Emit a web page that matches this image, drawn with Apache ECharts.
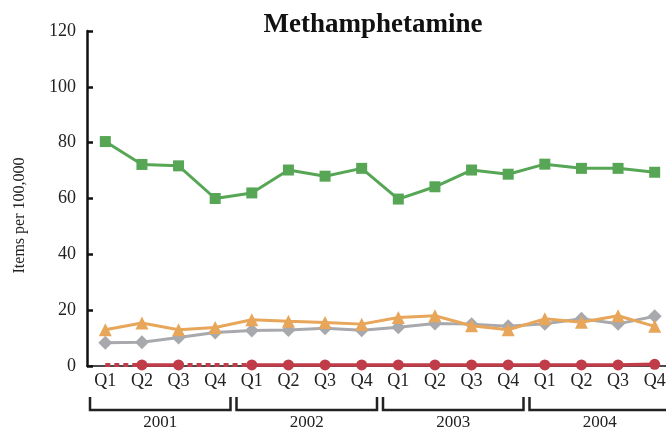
<!DOCTYPE html>
<html>
<head>
<meta charset="utf-8">
<script src="https://cdn.jsdelivr.net/npm/echarts@6/dist/echarts.min.js"></script>
<style>
  html, body { margin: 0; padding: 0; background: #fff; }
  #chart { width: 666px; height: 433px; }
</style>
</head>
<body>
<div id="chart"></div>
<script>
// quarters and years on the x axis
const quarters = ['Q1', 'Q2', 'Q3', 'Q4', 'Q1', 'Q2', 'Q3', 'Q4', 'Q1', 'Q2', 'Q3', 'Q4', 'Q1', 'Q2', 'Q3', 'Q4'];
const years = ['2001', '2002', '2003', '2004'];

// items per 100,000
const greenVals = [80.4, 72.2, 71.7, 60, 62, 70.2, 68, 70.8, 59.8, 64.2, 70.2, 68.7, 72.3, 70.8, 70.8, 69.4];
const grayVals = [8.3, 8.5, 10.2, 12, 12.7, 12.9, 13.5, 12.8, 13.9, 15.2, 15, 14.2, 15.1, 16.9, 15.1, 17.8];
const orangeVals = [13, 15.4, 13, 13.8, 16.6, 16, 15.6, 15, 17.4, 18, 14.4, 13, 16.9, 15.7, 18, 14.2];
const redVals = [null, 0.4, 0.4, null, 0.4, 0.4, 0.4, 0.4, 0.4, 0.4, 0.4, 0.4, 0.4, 0.4, 0.4, 0.6];
// dashed stretches of the red line (no data quarters)
const redDashA = [0.4, 0.4, null, null, null, null, null, null, null, null, null, null, null, null, null, null];
const redDashB = [null, null, 0.4, 0.4, 0.4, null, null, null, null, null, null, null, null, null, null, null];

const serif = 'Liberation Serif';
const red = '#c03c48';
const chart = echarts.init(document.getElementById('chart'));

// bracket under each year
const bracket = (params, api) => {
    const b = api.coord([api.value(0), 0]);
    const t = api.coord([api.value(0), 1]);
    const w = api.size([1, 0])[0];
    const x0 = b[0] - w / 2 + 3;
    const x1 = b[0] + w / 2 - 3;
    return {
        type: 'polyline',
        shape: { points: [[x0, t[1]], [x0, b[1]], [x1, b[1]], [x1, t[1]]] },
        style: { stroke: '#222', lineWidth: 2.5, fill: null }
    };
};

const dashed = (data) => ({
    type: 'line', data: data, symbol: 'none', z: 8, clip: false,
    lineStyle: { color: red, width: 4, type: [5, 4] }
});

chart.setOption({
    animation: false,
    title: {
        text: 'Methamphetamine',
        left: 368,
        top: 7,
        textAlign: 'center',
        textStyle: { fontFamily: serif, fontWeight: 'bold', fontSize: 27, color: '#111' }
    },
    grid: [
        { left: 87, width: 586, top: 31, bottom: 67, outerBoundsMode: 'none', containLabel: false },
        { left: 87, width: 586, top: 397, height: 13, outerBoundsMode: 'none', containLabel: false }
    ],
    xAxis: [
        {
            type: 'category',
            data: quarters,
            boundaryGap: true,
            axisLine: { lineStyle: { color: '#111', width: 1.5 } },
            axisTick: { inside: true, length: 7, alignWithLabel: true, interval: 0, lineStyle: { color: '#111', width: 2 } },
            axisLabel: { interval: 0, margin: 6, fontFamily: serif, fontSize: 18, color: '#222' }
        },
        {
            type: 'category',
            gridIndex: 1,
            data: years,
            boundaryGap: true,
            axisLine: { show: false },
            axisTick: { show: false },
            axisLabel: { margin: 4, fontFamily: serif, fontSize: 17, color: '#222' }
        }
    ],
    yAxis: [
        {
            type: 'value',
            min: 0,
            max: 120,
            interval: 20,
            name: 'Items per 100,000',
            nameLocation: 'middle',
            nameGap: 59,
            nameTextStyle: { fontFamily: serif, fontSize: 16, color: '#222', padding: [0, 34, 0, 0] },
            splitLine: { show: false },
            axisLine: { show: true, lineStyle: { color: '#111', width: 2.5 } },
            axisTick: { show: true, inside: true, length: 6, lineStyle: { color: '#111', width: 2.5 } },
            axisLabel: { margin: 11, fontFamily: serif, fontSize: 18, color: '#222' }
        },
        { type: 'value', gridIndex: 1, min: 0, max: 1, show: false }
    ],
    series: [
        {
            type: 'line', data: redVals, symbol: 'circle', symbolSize: 11, showAllSymbol: true, z: 4, clip: false,
            itemStyle: { color: red }, lineStyle: { color: red, width: 3.5, type: 'solid' }
        },
        {
            type: 'line', data: grayVals, symbol: 'diamond', symbolSize: 14, showAllSymbol: true, z: 5,
            itemStyle: { color: '#a8a9ad' }, lineStyle: { color: '#a8a9ad', width: 3 }
        },
        {
            type: 'line', data: orangeVals, symbol: 'triangle', symbolSize: 13, showAllSymbol: true, z: 6,
            itemStyle: { color: '#e8a65a' }, lineStyle: { color: '#e8a65a', width: 3 }
        },
        {
            type: 'line', data: greenVals, symbol: 'rect', symbolSize: 11, showAllSymbol: true, z: 7,
            itemStyle: { color: '#56a656' }, lineStyle: { color: '#56a656', width: 3 }
        },
        dashed(redDashA),
        dashed(redDashB),
        {
            type: 'custom', xAxisIndex: 1, yAxisIndex: 1, clip: false,
            data: years.map((y, i) => [i]),
            encode: { x: 0 },
            renderItem: bracket
        }
    ]
});
</script>
</body>
</html>
